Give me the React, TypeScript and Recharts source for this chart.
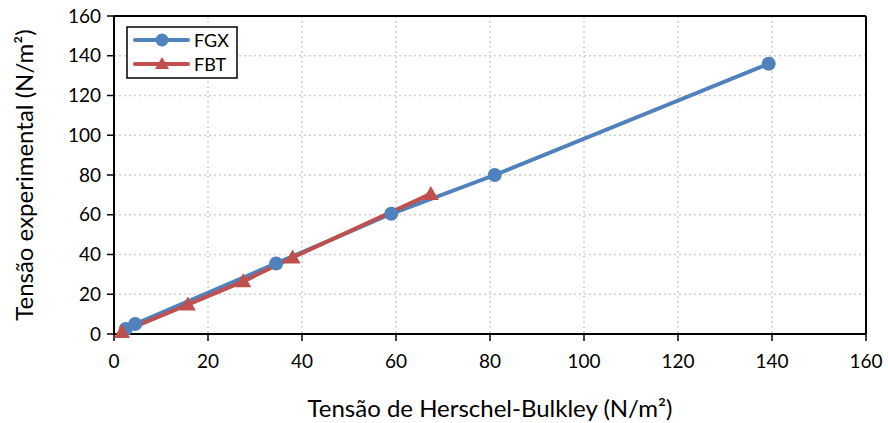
import {
  LineChart,
  Line,
  XAxis,
  YAxis,
  CartesianGrid,
  ReferenceLine,
  Label,
} from "recharts";

// Tensão de Herschel-Bulkley (x) vs Tensão experimental (y)
const fgxHB = [2.5, 4.5, 34.5, 59, 81, 139.3];
const fgxExp = [2.5, 5, 35.5, 60.5, 80, 136];
const fbtHB = [1.7, 15.7, 27.5, 38, 67.4];
const fbtExp = [1, 14.8, 26.5, 38.5, 70.5];
const ticks = [0, 20, 40, 60, 80, 100, 120, 140, 160];

const BLUE = "#4F81BD";
const RED = "#C0504D";
const FONT = "Lato, 'Open Sans', sans-serif";

const fgxData = fgxHB.map((x, i) => ({ x, y: fgxExp[i] }));
const fbtData = fbtHB.map((x, i) => ({ x, y: fbtExp[i] }));

function Triangle(props: any) {
  const { cx, cy } = props;
  if (cx == null || cy == null) return null;
  const s = 8;
  return (
    <polygon
      key={`t-${cx}-${cy}`}
      points={`${cx},${cy - s} ${cx - s},${cy + s * 0.75} ${cx + s},${cy + s * 0.75}`}
      fill={RED}
    />
  );
}

function LegendBox() {
  const rows = [
    { name: "FGX", color: BLUE, marker: "circle" },
    { name: "FBT", color: RED, marker: "triangle" },
  ];
  return (
    <svg width={112} height={53} style={{ display: "block" }}>
      <rect x={1} y={1} width={110} height={51} fill="#fff" stroke="#000" strokeWidth={1.5} />
      {rows.map((r, i) => {
        const cy = 14 + i * 24;
        return (
          <g key={r.name}>
            <line x1={9} x2={62} y1={cy} y2={cy} stroke={r.color} strokeWidth={4} strokeLinecap="round" />
            {r.marker === "circle" ? (
              <circle cx={36} cy={cy} r={6.5} fill={r.color} />
            ) : (
              <polygon points={`36,${cy - 7} 29,${cy + 5} 43,${cy + 5}`} fill={r.color} />
            )}
            <text x={68} y={cy + 7} fontSize={18} fontFamily={FONT} fill="#000">
              {r.name}
            </text>
          </g>
        );
      })}
    </svg>
  );
}

export default function App() {
  return (
    <div style={{ position: "absolute", left: 0, top: 0, width: 888, height: 423, background: "#fff" }}>
      <LineChart
        width={888}
        height={423}
        margin={{ top: 16, right: 22, bottom: 0, left: 0 }}
      >
        <CartesianGrid stroke="#d0d0d0" strokeDasharray="2 3" strokeWidth={1.5} />
        <XAxis
          dataKey="x"
          type="number"
          domain={[0, 160]}
          ticks={ticks}
          height={89}
          tickSize={7}
          tickMargin={14}
          stroke="#000"
          strokeWidth={2}
          tick={{ fill: "#000", fontSize: 19, fontFamily: FONT }}
          tickLine={{ stroke: "#000", strokeWidth: 1.5 }}
        >
          <Label
            value="Tensão de Herschel-Bulkley (N/m²)"
            position="insideBottom"
            offset={6}
            style={{ fill: "#000", fontSize: 24, fontFamily: FONT }}
          />
        </XAxis>
        <YAxis
          dataKey="y"
          type="number"
          domain={[0, 160]}
          ticks={ticks}
          width={114}
          tickSize={7}
          tickMargin={6}
          stroke="#000"
          strokeWidth={2}
          tick={{ fill: "#000", fontSize: 19, fontFamily: FONT }}
          tickLine={{ stroke: "#000", strokeWidth: 1.5 }}
        >
          <Label
            value="Tensão experimental (N/m²)"
            angle={-90}
            position="insideLeft"
            offset={24}
            style={{ textAnchor: "middle", fill: "#000", fontSize: 24, fontFamily: FONT }}
          />
        </YAxis>
        <ReferenceLine y={160} stroke="#000" strokeWidth={2} />
        <ReferenceLine x={160} stroke="#000" strokeWidth={2} />
        <Line
          data={fgxData}
          dataKey="y"
          type="linear"
          name="FGX"
          stroke={BLUE}
          strokeWidth={4}
          dot={{ r: 7, fill: BLUE, stroke: "none" }}
          isAnimationActive={false}
        />
        <Line
          data={fbtData}
          dataKey="y"
          type="linear"
          name="FBT"
          stroke={RED}
          strokeWidth={4}
          dot={<Triangle />}
          isAnimationActive={false}
        />
      </LineChart>
      <div style={{ position: "absolute", left: 126, top: 26 }}>
        <LegendBox />
      </div>
    </div>
  );
}
